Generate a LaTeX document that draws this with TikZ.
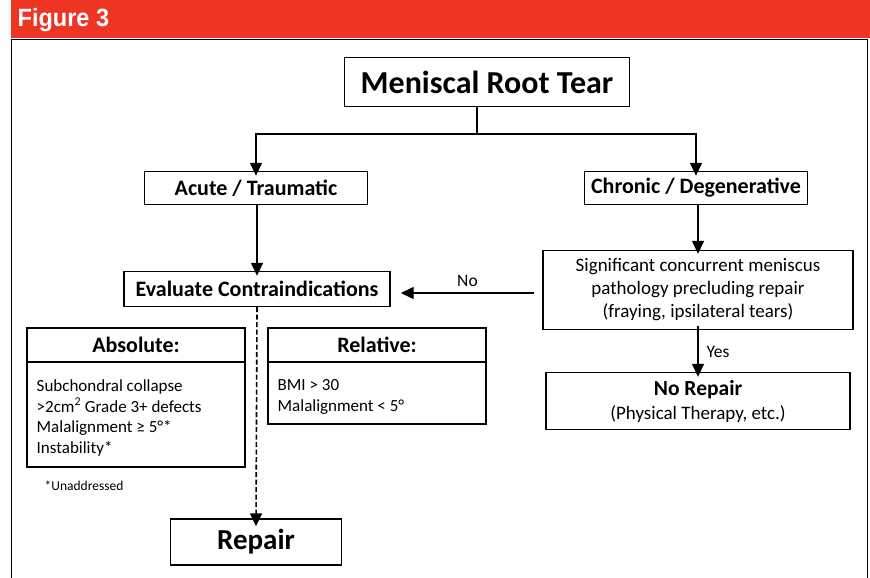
\documentclass[tikz,border=0pt]{standalone}
\usepackage{fontspec}
\setmainfont{Carlito}
\newfontfamily\figfont{Liberation Sans}
\usetikzlibrary{arrows.meta}
\definecolor{figRed}{HTML}{EE3524}

\begin{document}
\begin{tikzpicture}
[
x=1pt, y=-1pt,
every node/.style={
	draw=black,
	line width=1.4pt,
	rectangle,
	inner sep=0pt,
	align=center},
boldTxt/.style={font=\bfseries\fontsize{22}{26}\selectfont},
plainTxt/.style={font=\fontsize{19}{23}\selectfont},
listTxt/.style={draw=none, align=left, font=\fontsize{17}{20.5}\selectfont},
lblTxt/.style={draw=none, font=\fontsize{17.5}{20}\selectfont},
regArr/.style={
	-{Triangle[length=13pt,width=12pt]},
	line width=1.4pt},
dashArr/.style={
	regArr,
	dash pattern=on 5pt off 2.5pt,
	line width=1.6pt}
]
\useasboundingbox (0,0) rectangle (870,578);

%frame and title bar
\fill [figRed] (11,0) rectangle (870,38);
\draw [line width=0.9pt] (11,600) -- (11,39) -- (867,39) -- (867,600);
\node [draw=none, anchor=west, text=white, font=\figfont\bfseries\fontsize{25}{27}\selectfont] (fig) at (17,20) {\scalebox{0.94}[1]{Figure 3}};

%top level
\node [font=\bfseries\fontsize{32}{36}\selectfont, minimum width=285pt, minimum height=49pt] (root) at (487,82) {Meniscal Root Tear};
\node [boldTxt, minimum width=223pt, minimum height=33pt] (acute) at (256,188) {Acute / Traumatic};
\node [boldTxt, minimum width=223pt, minimum height=33pt] (chronic) at (696,188) {Chronic / Degenerative};

%acute side
\node [boldTxt, minimum width=266pt, minimum height=35pt] (eval) at (257,289) {Evaluate Contraindications};
\node [boldTxt, minimum width=218pt, minimum height=34pt] (absHead) at (136,345) {Absolute:};
\node [minimum width=218pt, minimum height=105pt] (absBody) at (136,414.5) {};
\node [listTxt, anchor=north west] (absList) at (36,379) {Subchondral collapse\\>2cm\textsuperscript{2} Grade 3+ defects\\Malalignment ≥ 5°*\\Instability*};
\node [draw=none, anchor=west, font=\fontsize{13.5}{16}\selectfont] (note) at (44,486) {*Unaddressed};
\node [boldTxt, minimum width=218pt, minimum height=34pt] (relHead) at (377,345) {Relative:};
\node [minimum width=218pt, minimum height=62pt] (relBody) at (377,393) {};
\node [listTxt, anchor=north west] (relList) at (277,379) {BMI > 30\\Malalignment < 5°};
\node [font=\bfseries\fontsize{29}{32}\selectfont, minimum width=171pt, minimum height=46pt] (repair) at (256,542) {Repair};

%chronic side
\node [plainTxt, minimum width=310pt, minimum height=79pt] (signif) at (698,290) {Significant concurrent meniscus\\pathology precluding repair\\(fraying, ipsilateral tears)};
\node [minimum width=304pt, minimum height=57pt, font=\fontsize{19}{24}\selectfont] (norep) at (698,401) {\textbf{\fontsize{21.5}{24}\selectfont No Repair}\\(Physical Therapy, etc.)};

%connectors
\coordinate (split) at (477,134);
\draw [line width=1.4pt] (root.south -| split) -- (split);
\draw [regArr] (split) -| ([yshift=-5pt]acute.north);
\draw [regArr] (split) -| ([yshift=-5pt]chronic.north);
\draw [regArr] (acute.south -| eval.north) -- ([yshift=-5pt]eval.north);
\draw [regArr] (chronic.south -| signif.north) -- ([yshift=-4pt]signif.north);
\draw [regArr] ([xshift=-8pt]signif.west |- 0,293) -- ([xshift=10pt]eval.east |- 0,293) node [lblTxt, midway, above=6pt] (noLbl) {No};
\draw [regArr] ([yshift=4pt]signif.south) -- ([yshift=-5pt]norep.north) node [lblTxt, midway, right=8pt] (yesLbl) {Yes};
\draw [dashArr] (eval.south) -- ([yshift=-8pt]repair.north);

\end{tikzpicture}
\end{document}
